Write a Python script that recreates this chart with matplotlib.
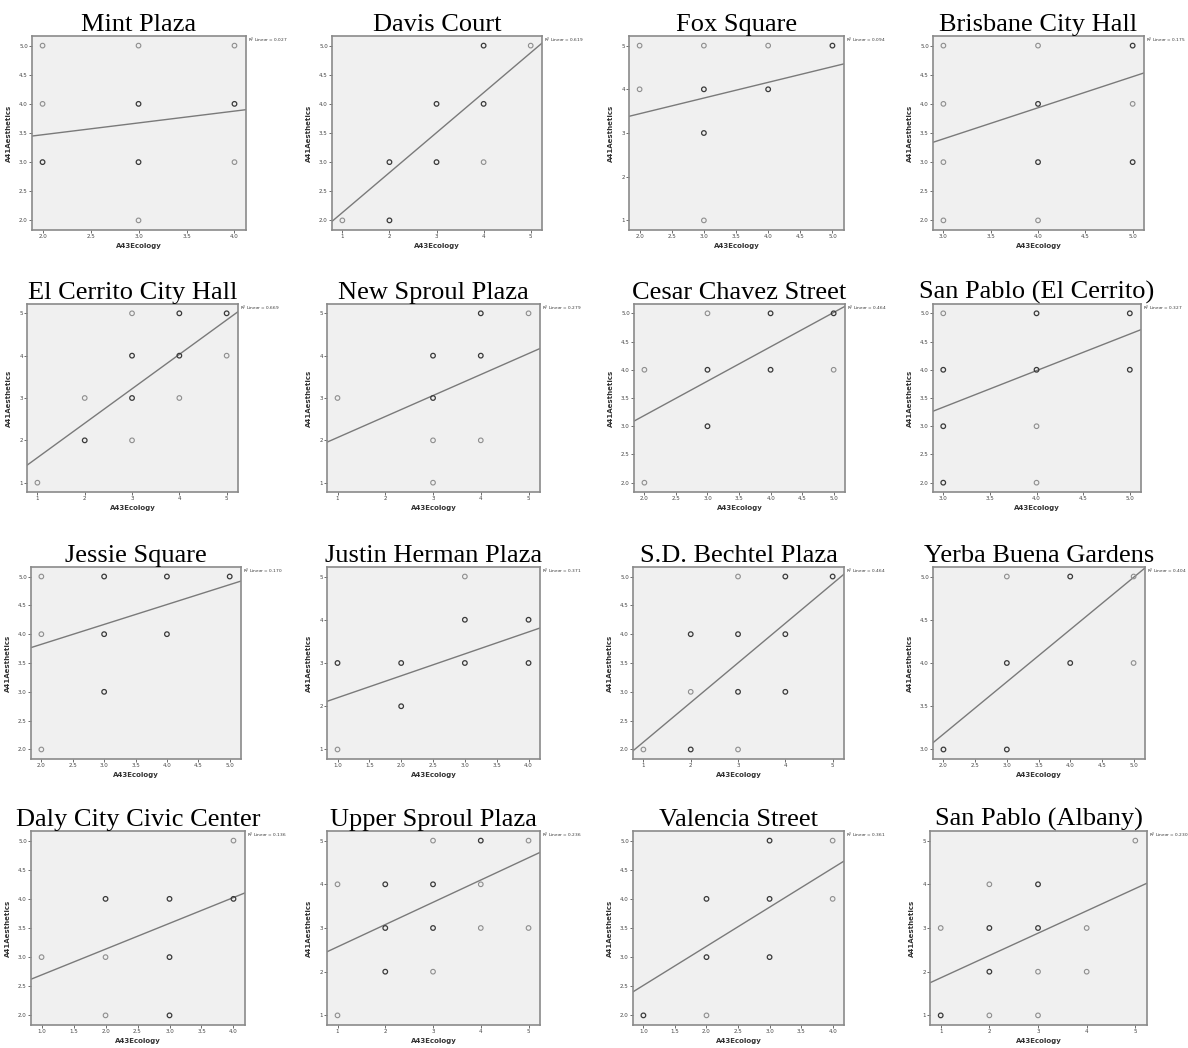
import numpy as np
import matplotlib
matplotlib.use("Agg")
import matplotlib.pyplot as plt

# -------------------------------
# Data
# -------------------------------
titles = ["Mint Plaza", "Davis Court", "Fox Square", "Brisbane City Hall",
          "El Cerrito City Hall", "New Sproul Plaza", "Cesar Chavez Street", "San Pablo (El Cerrito)",
          "Jessie Square", "Justin Herman Plaza", "S.D. Bechtel Plaza", "Yerba Buena Gardens",
          "Daly City Civic Center", "Upper Sproul Plaza", "Valencia Street", "San Pablo (Albany)"]

r2_values = [0.027, 0.619, 0.094, 0.175,
             0.669, 0.279, 0.464, 0.327,
             0.170, 0.371, 0.464, 0.404,
             0.136, 0.236, 0.361, 0.230]

slopes = [0.203, 0.686, 0.359, 0.534,
          0.813, 0.496, 0.608, 0.648,
          0.345, 0.507, 0.687, 0.604,
          0.443, 0.510, 0.671, 0.511]

intercepts = [3.064, 1.448, 2.723, 1.797,
              0.778, 1.570, 1.975, 1.393,
              3.134, 1.690, 1.441, 1.970,
              2.251, 2.058, 1.844, 1.348]

# x, y of each distinct response, and whether it is a stacked (darker) point
x_points = [
    [2, 2, 2, 3, 3, 3, 3, 4, 4, 4],
    [1, 2, 2, 3, 3, 4, 4, 4, 5],
    [2, 2, 3, 3, 3, 3, 4, 4, 5],
    [3, 3, 3, 3, 4, 4, 4, 4, 5, 5, 5],
    [1, 2, 2, 3, 3, 3, 3, 4, 4, 4, 5, 5],
    [1, 3, 3, 3, 3, 4, 4, 4, 5],
    [2, 2, 3, 3, 3, 4, 4, 5, 5],
    [3, 3, 3, 3, 4, 4, 4, 4, 5, 5],
    [2, 2, 2, 3, 3, 3, 4, 4, 5],
    [1, 1, 2, 2, 3, 3, 3, 4, 4],
    [1, 2, 2, 2, 3, 3, 3, 3, 4, 4, 4, 5],
    [2, 3, 3, 3, 4, 4, 5, 5],
    [1, 2, 2, 2, 3, 3, 3, 4, 4],
    [1, 1, 2, 2, 2, 3, 3, 3, 3, 4, 4, 4, 5, 5],
    [1, 2, 2, 2, 3, 3, 3, 4, 4],
    [1, 1, 2, 2, 2, 2, 3, 3, 3, 3, 4, 4, 5],
]
y_points = [
    [5, 4, 3, 5, 4, 3, 2, 5, 4, 3],
    [2, 2, 3, 4, 3, 5, 4, 3, 5],
    [5, 4, 5, 4, 3, 1, 5, 4, 5],
    [5, 4, 3, 2, 5, 4, 3, 2, 5, 4, 3],
    [1, 3, 2, 5, 4, 3, 2, 5, 4, 3, 5, 4],
    [3, 4, 3, 2, 1, 5, 4, 2, 5],
    [4, 2, 5, 4, 3, 5, 4, 5, 4],
    [5, 4, 3, 2, 5, 4, 3, 2, 5, 4],
    [5, 4, 2, 5, 4, 3, 5, 4, 5],
    [3, 1, 3, 2, 5, 4, 3, 4, 3],
    [2, 4, 3, 2, 5, 4, 3, 2, 5, 4, 3, 5],
    [3, 5, 4, 3, 5, 4, 5, 4],
    [3, 4, 3, 2, 4, 3, 2, 5, 4],
    [4, 1, 4, 3, 2, 5, 4, 3, 2, 5, 4, 3, 5, 3],
    [2, 4, 3, 2, 5, 4, 3, 5, 4],
    [3, 1, 4, 3, 2, 1, 4, 3, 2, 1, 3, 2, 5],
]
stacked = [
    [0, 0, 1, 0, 1, 1, 0, 0, 1, 0],
    [0, 1, 1, 1, 1, 1, 1, 0, 0],
    [0, 0, 0, 1, 1, 0, 0, 1, 1],
    [0, 0, 0, 0, 0, 1, 1, 0, 1, 0, 1],
    [0, 0, 1, 0, 1, 1, 0, 1, 1, 0, 1, 0],
    [0, 1, 1, 0, 0, 1, 1, 0, 0],
    [0, 0, 0, 1, 1, 1, 1, 1, 0],
    [0, 1, 1, 1, 1, 1, 0, 0, 1, 1],
    [0, 0, 0, 1, 1, 1, 1, 1, 1],
    [1, 0, 1, 1, 0, 1, 1, 1, 1],
    [0, 1, 0, 1, 0, 1, 1, 0, 1, 1, 1, 1],
    [1, 0, 1, 1, 1, 1, 0, 0],
    [0, 1, 0, 0, 1, 1, 1, 0, 1],
    [0, 0, 1, 1, 1, 0, 1, 1, 0, 1, 0, 0, 0, 0],
    [1, 1, 1, 0, 1, 1, 1, 0, 0],
    [0, 1, 0, 1, 1, 0, 1, 1, 0, 0, 0, 0, 0],
]

# -------------------------------
# Layout (pixel boxes of each plot area)
# -------------------------------
W, H = 1188, 1048
row_tops = [36, 304, 567, 831]
row_heights = [194, 188, 192, 194]
col_lefts = [[32, 332, 629, 933],
             [27, 327, 634, 933],
             [31, 327, 633, 933],
             [31, 327, 633, 930]]
col_widths = [[214, 210, 215, 211],
              [211, 213, 211, 208],
              [210, 213, 211, 212],
              [214, 213, 211, 217]]

fig = plt.figure(figsize=(W / 100, H / 100), dpi=100)
fig.patch.set_facecolor("white")

for i, title in enumerate(titles):
    r, c = divmod(i, 4)
    left = col_lefts[r][c]
    width = col_widths[r][c]
    top = row_tops[r]
    height = row_heights[r]
    ax = fig.add_axes([left / W, 1 - (top + height) / H, width / W, height / H])
    ax.set_facecolor("#f0f0f0")

    xs = np.array(x_points[i], dtype=float)
    ys = np.array(y_points[i], dtype=float)
    dark = np.array(stacked[i], dtype=bool)

    # axis ranges and ticks, SPSS style
    xmin, xmax = xs.min(), xs.max()
    ymin, ymax = ys.min(), ys.max()
    xstep = 0.5 if xmax - xmin <= 3 else 1
    ystep = 0.5 if ymax - ymin <= 3 else 1
    xr, yr = xmax - xmin, ymax - ymin
    xlo, xhi = xmin - 0.055 * xr, xmax + 0.06 * xr
    ylo, yhi = ymin - 0.055 * yr, ymax + 0.055 * yr
    ax.set_xlim(xlo, xhi)
    ax.set_ylim(ylo, yhi)
    xt = np.arange(xmin, xmax + 0.01, xstep)
    yt = np.arange(ymin, ymax + 0.01, ystep)
    ax.set_xticks(xt)
    ax.set_yticks(yt)
    ax.set_xticklabels([f"{v:.1f}" if xstep < 1 else f"{v:.0f}" for v in xt])
    ax.set_yticklabels([f"{v:.1f}" if ystep < 1 else f"{v:.0f}" for v in yt])

    # regression line
    lx = np.array([xlo, xhi])
    ax.plot(lx, intercepts[i] + slopes[i] * lx, color="#7a7a7a", lw=1.0, zorder=2)

    # points
    ax.scatter(xs[~dark], ys[~dark], s=11, facecolors="none", edgecolors="#8e8e8e",
               linewidths=0.8, zorder=3)
    ax.scatter(xs[dark], ys[dark], s=11, facecolors="none", edgecolors="#3a3a3a",
               linewidths=0.9, zorder=3)

    for sp in ax.spines.values():
        sp.set_color("#8a8a8a")
        sp.set_linewidth(1.2)
    ax.tick_params(direction="out", length=2, width=0.6, color="#555555",
                   labelsize=4, labelcolor="#444444", pad=1)

    ax.set_xlabel("A43Ecology", fontsize=5, fontweight="bold", color="#333333", labelpad=3)
    ax.set_ylabel("A41Aesthetics", fontsize=5, fontweight="bold", color="#333333", labelpad=5)
    ax.text(1.008, 1.0, f"R$^2$ Linear = {r2_values[i]:.3f}", transform=ax.transAxes,
            fontsize=3.1, color="#333333", ha="left", va="top")

    ax.set_title(title, family="Liberation Serif", fontsize=19, pad=3)

fig.savefig("out.png", dpi=100, facecolor="white")
